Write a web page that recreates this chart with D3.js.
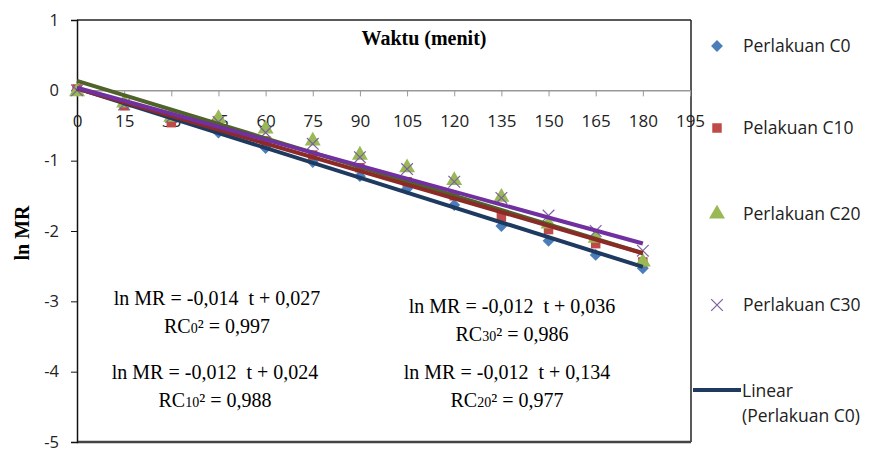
<!DOCTYPE html>
<html>
<head>
<meta charset="utf-8">
<script src="https://cdn.jsdelivr.net/npm/d3@7"></script>
<style>
  body { margin: 0; background: #fff; }
  svg { display: block; }
</style>
</head>
<body>
<div id="chart"></div>
<script>
// data
const times = [0, 15, 30, 45, 60, 75, 90, 105, 120, 135, 150, 165, 180];
const c0  = [0, -0.2, -0.42, -0.6, -0.82, -1.02, -1.22, -1.4, -1.63, -1.93, -2.14, -2.34, -2.53];
const c10 = [0.02, -0.22, -0.46, -0.55, -0.72, -0.92, -1.1, -1.3, -1.5, -1.8, -1.98, -2.18, -2.44];
const c20 = [-0.02, -0.18, -0.38, -0.4, -0.55, -0.72, -0.92, -1.1, -1.28, -1.52, -1.9, -2.1, -2.44];
const c30 = [0, -0.2, -0.38, -0.45, -0.6, -0.76, -0.95, -1.12, -1.3, -1.53, -1.78, -2.0, -2.28];
const seriesNames = ["Perlakuan C0", "Pelakuan C10", "Perlakuan C20", "Perlakuan C30"];
// trend lines (slope, intercept)
const slopes = [-0.0141, -0.0130, -0.0136, -0.0123];
const intercepts = [0.027, 0.024, 0.134, 0.036];
const xTicks = d3.range(0, 196, 15);
const yTicks = [1, 0, -1, -2, -3, -4, -5];

const width = 873, height = 452;
const svg = d3.select("#chart").append("svg")
    .attr("width", width).attr("height", height);

const x = d3.scaleLinear().domain([0, 195]).range([77, 690]);
const y = d3.scaleLinear().domain([-5, 1]).range([442, 20]);

const markerColors = ["#4a7ebb", "#be4b48", "#98b954", "#7d60a0"];
const lineColors = ["#1f3a60", "#8b2a27", "#4f6228", "#7030a0"];
const tickFont = "Open Sans";

// frame
svg.append("line").attr("x1", 77).attr("x2", 691).attr("y1", 20).attr("y2", 20)
    .attr("stroke", "#222").attr("stroke-width", 1.5);
svg.append("line").attr("x1", 691).attr("x2", 691).attr("y1", 20).attr("y2", 442)
    .attr("stroke", "#222").attr("stroke-width", 1.5);
svg.append("line").attr("x1", 77).attr("x2", 691).attr("y1", 442).attr("y2", 442)
    .attr("stroke", "#444").attr("stroke-width", 2.5);

// y axis
const yAxis = svg.append("g").attr("transform", "translate(77,0)")
    .call(d3.axisLeft(y).tickValues(yTicks).tickSize(6).tickPadding(12).tickFormat(d3.format("d")));
yAxis.select(".domain").attr("stroke", "#111").attr("stroke-width", 1.5);
yAxis.selectAll(".tick line").attr("stroke", "#111");
yAxis.selectAll("text").attr("font-family", tickFont).attr("font-size", 16.5).attr("fill", "#222")
    .text(d => d < 0 ? "-" + Math.abs(d) : d);

// x axis at y = 0
const xAxis = svg.append("g").attr("transform", "translate(0," + y(0) + ")")
    .call(d3.axisBottom(x).tickValues(xTicks).tickSize(6).tickSizeOuter(0).tickPadding(19));
xAxis.select(".domain").attr("stroke", "#999").attr("stroke-width", 1.5);
xAxis.selectAll(".tick line").attr("stroke", "#999");
xAxis.selectAll("text").attr("font-family", tickFont).attr("font-size", 17).attr("fill", "#222");

// titles
svg.append("text").attr("x", 424).attr("y", 45).attr("text-anchor", "middle")
    .attr("font-family", "Liberation Serif").attr("font-weight", "bold").attr("font-size", 20)
    .text("Waktu (menit)");
svg.append("text").attr("transform", "translate(29,233) rotate(-90)").attr("text-anchor", "middle")
    .attr("font-family", "Liberation Serif").attr("font-weight", "bold").attr("font-size", 20)
    .text("ln MR");

// markers
const allSeries = [c0, c10, c20, c30];
const symbols = [d3.symbolDiamond2, d3.symbolSquare, d3.symbolTriangle, d3.symbolX];
const sizes = [90, 90, 110, 90];

function drawMarker(g, i, cx, cy) {
    g.append("path")
        .attr("d", d3.symbol().type(symbols[i]).size(sizes[i])())
        .attr("transform", "translate(" + cx + "," + cy + ")")
        .attr("fill", i === 3 ? "none" : markerColors[i])
        .attr("stroke", i === 3 ? markerColors[i] : "none")
        .attr("stroke-width", 1.2);
}

allSeries.forEach((s, i) => {
    const g = svg.append("g");
    s.forEach((v, j) => drawMarker(g, i, x(times[j]), y(v)));
});

// trend lines, drawn over the markers
const order = [2, 0, 1, 3];
order.forEach(i => {
    const pts = [0, 180].map(t => [t, slopes[i] * t + intercepts[i]]);
    svg.append("path")
        .attr("d", d3.line().x(d => x(d[0])).y(d => y(d[1]))(pts))
        .attr("stroke", lineColors[i]).attr("stroke-width", 4).attr("fill", "none");
});

// equations
const eqs = [
    { a: "-0,014", b: "0,027", sub: "0", r: "0,997", cx: 217, cy: 305 },
    { a: "-0,012", b: "0,036", sub: "30", r: "0,986", cx: 512, cy: 313 },
    { a: "-0,012", b: "0,024", sub: "10", r: "0,988", cx: 215, cy: 379 },
    { a: "-0,012", b: "0,134", sub: "20", r: "0,977", cx: 507, cy: 379 }
];
eqs.forEach(e => {
    svg.append("text").attr("x", e.cx).attr("y", e.cy).attr("text-anchor", "middle")
        .attr("font-family", "Liberation Serif").attr("font-size", 20).attr("xml:space", "preserve")
        .text("ln MR = " + e.a + "  t + " + e.b);
    const t = svg.append("text").attr("x", e.cx).attr("y", e.cy + 28).attr("text-anchor", "middle")
        .attr("font-family", "Liberation Serif").attr("font-size", 20);
    t.append("tspan").text("RC");
    t.append("tspan").attr("font-size", 14).text(e.sub);
    t.append("tspan").text("\u00b2 = " + e.r);
});

// legend
const legY = [46, 128, 214, 305];
seriesNames.forEach((name, i) => {
    drawMarker(svg, i, 717, legY[i]);
    svg.append("text").attr("x", 743).attr("y", legY[i] + 6)
        .attr("font-family", tickFont).attr("font-size", 17.5).attr("fill", "#222")
        .text(name);
});
svg.append("line").attr("x1", 693).attr("x2", 741).attr("y1", 390).attr("y2", 390)
    .attr("stroke", lineColors[0]).attr("stroke-width", 4);
svg.append("text").attr("x", 742).attr("y", 397)
    .attr("font-family", tickFont).attr("font-size", 17.5).attr("fill", "#222").text("Linear");
svg.append("text").attr("x", 742).attr("y", 422)
    .attr("font-family", tickFont).attr("font-size", 17.5).attr("fill", "#222").text("(Perlakuan C0)");
</script>
</body>
</html>
